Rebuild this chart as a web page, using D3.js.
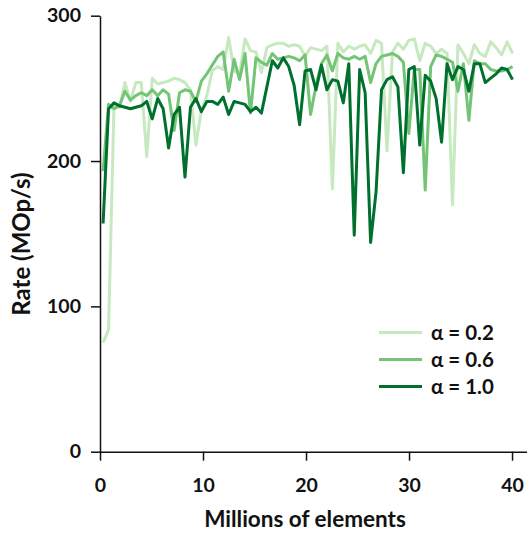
<!DOCTYPE html>
<html>
<head>
<meta charset="utf-8">
<script src="https://cdn.jsdelivr.net/npm/d3@7"></script>
<style>
  body { margin: 0; background: #fff; }
  text { font-family: Lato, "Open Sans", sans-serif; font-weight: bold; fill: #111; }
</style>
</head>
<body>
<svg id="chart"></svg>
<script>
var w = 527, h = 533;

// millions of elements at each sample
var sizes = [0.30, 0.83, 1.36, 1.89, 2.42, 2.95, 3.48, 4.01, 4.54, 5.07, 5.60, 6.13, 6.66, 7.19, 7.72, 8.25,
  8.78, 9.31, 9.84, 10.37, 10.90, 11.43, 11.96, 12.49, 13.02, 13.55, 14.08, 14.61, 15.14, 15.67, 16.20, 16.73,
  17.26, 17.79, 18.32, 18.85, 19.38, 19.91, 20.44, 20.97, 21.50, 22.03, 22.56, 23.09, 23.62, 24.15, 24.68, 25.21,
  25.74, 26.27, 26.80, 27.33, 27.86, 28.39, 28.92, 29.45, 29.98, 30.51, 31.04, 31.57, 32.10, 32.63, 33.16, 33.69,
  34.22, 34.75, 35.28, 35.81, 36.34, 36.87, 37.40, 37.93, 38.46, 38.99, 39.52, 40.05];

var rateA02 = [75, 84, 239, 237, 254, 241, 254, 254, 203, 257, 253, 254, 255, 257, 256, 254,
  249, 211, 235, 245, 262, 265, 263, 285, 262, 260, 284, 276, 275, 261, 278, 280,
  281, 281, 279, 280, 279, 272, 278, 277, 276, 279, 181, 281, 275, 279, 277, 279,
  280, 274, 283, 281, 207, 275, 281, 277, 283, 284, 269, 281, 279, 274, 277, 274,
  170, 280, 274, 267, 280, 274, 272, 282, 278, 273, 282, 274];

var rateA06 = [193, 239, 236, 238, 248, 242, 245, 247, 245, 249, 245, 249, 246, 221, 247, 249,
  248, 241, 255, 260, 266, 272, 275, 248, 270, 256, 274, 233, 271, 268, 266, 274,
  270, 271, 272, 271, 269, 273, 232, 252, 267, 273, 262, 274, 271, 270, 272, 270,
  272, 254, 267, 272, 273, 274, 272, 268, 219, 263, 263, 180, 265, 273, 272, 270,
  268, 248, 267, 228, 269, 267, 267, 263, 262, 262, 263, 265];

var rateA10 = [157, 236, 240, 238, 237, 236, 237, 238, 241, 229, 243, 236, 209, 232, 237, 189,
  237, 243, 234, 241, 241, 239, 244, 232, 241, 240, 239, 234, 237, 233, 251, 269,
  264, 271, 265, 252, 225, 262, 263, 249, 266, 249, 256, 255, 240, 267, 149, 263,
  247, 144, 179, 249, 256, 258, 251, 192, 263, 265, 211, 259, 255, 243, 213, 267,
  256, 265, 263, 248, 267, 267, 254, 257, 260, 264, 263, 256];

var seriesNames = ["\u03b1 = 0.2", "\u03b1 = 0.6", "\u03b1 = 1.0"];
var seriesColors = ["#c7e9c0", "#74c476", "#00702e"];
var xTicks = [0, 10, 20, 30, 40];
var yTicks = [0, 100, 200, 300];

var svg = d3.select("#chart").attr("width", w).attr("height", h);

var x = d3.scaleLinear().domain([0, 41.5]).range([100, 527.5]);
var y = d3.scaleLinear().domain([0, 300]).range([451.7, 15.7]);

var line = d3.line()
    .x(function(d){ return x(d[0]); })
    .y(function(d){ return y(d[1]); });

[rateA02, rateA06, rateA10].forEach(function(vals, i){
  svg.append("path")
    .datum(sizes.map(function(s, j){ return [s, vals[j]]; }))
    .attr("fill", "none")
    .attr("stroke", seriesColors[i])
    .attr("stroke-width", 3)
    .attr("stroke-linejoin", "round")
    .attr("d", line);
});

var xAxis = svg.append("g")
    .attr("transform", "translate(0," + y(0) + ")")
    .call(d3.axisBottom(x).tickValues(xTicks).tickSize(9).tickSizeOuter(0).tickPadding(17));
var yAxis = svg.append("g")
    .attr("transform", "translate(" + x(0) + ",0)")
    .call(d3.axisLeft(y).tickValues(yTicks).tickSize(9).tickSizeOuter(0).tickPadding(10));

[xAxis, yAxis].forEach(function(g){
  g.selectAll("path, line").attr("stroke", "#111").attr("stroke-width", 1.5);
  g.selectAll("text").style("font-size", "19.5px").style("font-family", "Lato, sans-serif")
    .style("font-weight", "bold").attr("fill", "#111");
});

svg.append("text")
    .attr("x", 305).attr("y", 527)
    .attr("text-anchor", "middle")
    .style("font-size", "22.5px")
    .text("Millions of elements");

svg.append("text")
    .attr("transform", "translate(30,244) rotate(-90)")
    .attr("text-anchor", "middle")
    .style("font-size", "24px")
    .text("Rate (MOp/s)");

var legend = svg.append("g");
seriesNames.forEach(function(name, i){
  var ly = 332.5 + i * 27;
  legend.append("line")
    .attr("x1", 379).attr("x2", 422)
    .attr("y1", ly).attr("y2", ly)
    .attr("stroke", seriesColors[i])
    .attr("stroke-width", 3);
  legend.append("text")
    .attr("x", 431).attr("y", ly + 7)
    .style("font-size", "20.5px")
    .text(name);
});
</script>
</body>
</html>
